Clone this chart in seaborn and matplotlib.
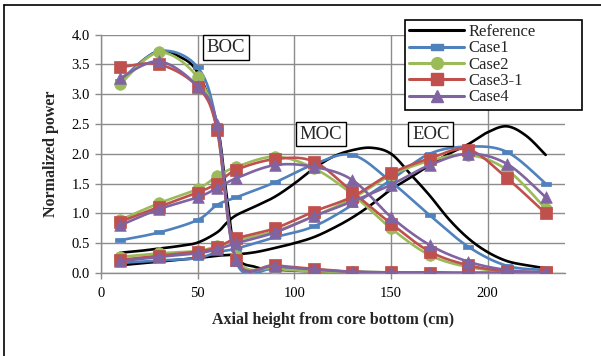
import numpy as np
import pandas as pd
import matplotlib
matplotlib.use("Agg")
import matplotlib.pyplot as plt
from matplotlib.lines import Line2D
import seaborn as sns

# Axial node heights (cm) for the calculated cases
heights = [10, 30, 50, 60, 70, 90, 110, 130, 150, 170, 190, 210, 230]

# Case1
case1_boc = [3.22, 3.72, 3.45, 2.48, 0.18, 0.08, 0.05, 0.02, 0.01, 0.00, 0.00, 0.00, 0.00]
case1_moc = [0.55, 0.68, 0.89, 1.14, 1.27, 1.52, 1.82, 1.98, 1.53, 0.97, 0.44, 0.12, 0.05]
case1_eoc = [0.17, 0.21, 0.25, 0.35, 0.41, 0.60, 0.78, 1.14, 1.56, 2.00, 2.12, 2.03, 1.50]
# Case2
case2_boc = [3.17, 3.70, 3.28, 2.42, 0.28, 0.08, 0.03, 0.02, 0.01, 0.00, 0.00, 0.00, 0.00]
case2_moc = [0.89, 1.17, 1.41, 1.62, 1.78, 1.95, 1.76, 1.32, 0.75, 0.30, 0.10, 0.03, 0.01]
case2_eoc = [0.27, 0.33, 0.37, 0.45, 0.55, 0.70, 0.95, 1.25, 1.64, 1.88, 1.98, 1.73, 1.08]
# Case3-1
case3_boc = [3.45, 3.50, 3.12, 2.40, 0.22, 0.13, 0.07, 0.02, 0.01, 0.00, 0.00, 0.00, 0.00]
case3_moc = [0.86, 1.11, 1.35, 1.50, 1.73, 1.91, 1.87, 1.36, 0.83, 0.36, 0.13, 0.03, 0.01]
case3_eoc = [0.22, 0.29, 0.36, 0.43, 0.58, 0.75, 1.03, 1.28, 1.67, 1.92, 2.07, 1.59, 1.00]
# Case4
case4_boc = [3.27, 3.55, 3.13, 2.50, 0.22, 0.12, 0.06, 0.02, 0.01, 0.00, 0.00, 0.00, 0.00]
case4_moc = [0.80, 1.07, 1.27, 1.42, 1.59, 1.81, 1.78, 1.56, 0.94, 0.47, 0.19, 0.05, 0.01]
case4_eoc = [0.20, 0.27, 0.33, 0.40, 0.50, 0.68, 0.95, 1.20, 1.48, 1.81, 2.00, 1.83, 1.27]

# Reference solution on a finer axial mesh
ref_heights = [10, 20, 30, 40, 50, 60, 65, 70, 80, 90, 100, 110, 120, 130, 140,
               150, 160, 170, 180, 190, 200, 210, 220, 230]
ref_boc = [3.20, 3.52, 3.72, 3.64, 3.36, 2.50, 1.30, 0.30, 0.10, 0.06, 0.04, 0.03,
           0.02, 0.02, 0.01, 0.01, 0.01, 0.01, 0.00, 0.00, 0.00, 0.00, 0.00, 0.00]
ref_moc = [0.34, 0.37, 0.41, 0.45, 0.51, 0.68, 0.84, 0.97, 1.12, 1.28, 1.50, 1.75,
           1.95, 2.06, 2.10, 2.00, 1.66, 1.30, 0.90, 0.58, 0.35, 0.20, 0.13, 0.08]
ref_eoc = [0.13, 0.16, 0.19, 0.22, 0.25, 0.29, 0.30, 0.31, 0.35, 0.42, 0.50, 0.60,
           0.75, 0.93, 1.15, 1.40, 1.60, 1.81, 2.00, 2.16, 2.36, 2.46, 2.30, 1.98]

series_names = ["Reference", "Case1", "Case2", "Case3-1", "Case4"]
colors = {"Reference": "#000000", "Case1": "#4F81BD", "Case2": "#9BBB59",
          "Case3-1": "#C0504D", "Case4": "#8064A2"}
dash_marker = [(-1.0, -0.45), (1.0, -0.45), (1.0, 0.45), (-1.0, 0.45), (-1.0, -0.45)]
markers = {"Case1": dash_marker, "Case2": "o", "Case3-1": "s", "Case4": "^"}
msizes = {"Case1": 50, "Case2": 70, "Case3-1": 65, "Case4": 70}
state_labels = ["BOC", "MOC", "EOC"]
state_pos = [(64.6, 3.78), (113.8, 2.33), (170.6, 2.33)]

case_data = {
    "Case1": [case1_boc, case1_moc, case1_eoc],
    "Case2": [case2_boc, case2_moc, case2_eoc],
    "Case3-1": [case3_boc, case3_moc, case3_eoc],
    "Case4": [case4_boc, case4_moc, case4_eoc],
}
ref_data = [ref_boc, ref_moc, ref_eoc]


def smooth_curve(x, y, n=24):
    """Bezier smoothing through every point (spreadsheet-style smoothed line)."""
    pts = np.column_stack([np.asarray(x, float), np.asarray(y, float)])
    padded = np.vstack([pts[0], pts, pts[-1]])
    t = np.linspace(0.0, 1.0, n)[:, None]
    pieces = []
    for i in range(len(pts) - 1):
        p0, p1, p2, p3 = padded[i], padded[i + 1], padded[i + 2], padded[i + 3]
        c1 = p1 + (p2 - p0) / 6.0
        c2 = p2 - (p3 - p1) / 6.0
        seg = ((1 - t) ** 3) * p1 + 3 * ((1 - t) ** 2) * t * c1 \
            + 3 * (1 - t) * t ** 2 * c2 + t ** 3 * p2
        pieces.append(seg if i == 0 else seg[1:])
    out = np.vstack(pieces)
    return out[:, 0], out[:, 1]


serif = ["Liberation Serif", "DejaVu Serif"]
sns.set_theme(style="white")
plt.rcParams["font.family"] = serif

fig = plt.figure(figsize=(6.01, 3.56), dpi=100)
W, H = 601, 356
ax = fig.add_axes([101 / W, 1 - 273 / H, (565 - 101) / W, (273 - 34.5) / H])

# Reference curves (no markers)
for vals in ref_data:
    sx, sy = smooth_curve(ref_heights, vals)
    sns.lineplot(x=sx, y=sy, sort=False, estimator=None, color=colors["Reference"],
                 linewidth=1.9, ax=ax, zorder=3)

# Calculated cases: smoothed line plus markers at the nodes
for k, name in enumerate(series_names[1:]):
    for vals in case_data[name]:
        sx, sy = smooth_curve(heights, vals)
        sns.lineplot(x=sx, y=sy, sort=False, estimator=None, color=colors[name],
                     linewidth=1.9, ax=ax, zorder=4 + k)
        sns.scatterplot(x=heights, y=vals, marker=markers[name], s=msizes[name],
                        color=colors[name], edgecolor=colors[name], linewidth=0.5,
                        ax=ax, zorder=4 + k, legend=False)

ax.set_xlim(0, 240)
ax.set_ylim(0, 4.0)
ax.set_xticks([0, 50, 100, 150, 200])
ax.set_yticks(np.arange(0, 4.01, 0.5))
ax.set_yticklabels([f"{v:.1f}" for v in np.arange(0, 4.01, 0.5)])
ax.grid(True, color="#8c8c8c", linewidth=1.0)
ax.set_axisbelow(True)
for side in ["top", "right"]:
    ax.spines[side].set_visible(False)
for side in ["left", "bottom"]:
    ax.spines[side].set_color("#8c8c8c")
    ax.spines[side].set_linewidth(1.0)
ax.tick_params(axis="both", which="major", direction="out", length=4, width=1,
               color="#8c8c8c", labelsize=10.5, labelcolor="black", pad=4,
               bottom=True, left=True)
ax.tick_params(axis="x", pad=6)
for lab in ax.get_xticklabels() + ax.get_yticklabels():
    lab.set_family(serif)

ax.set_xlabel("Axial height from core bottom (cm)", fontsize=11.5,
              fontweight="bold", family=serif, labelpad=9)
ax.set_ylabel("Normalized power", fontsize=11.5, fontweight="bold",
              family=serif, labelpad=9)

# Burnup state labels
for lab, (px, py) in zip(state_labels, state_pos):
    ax.text(px, py, lab, ha="center", va="center", fontsize=13.5, family=serif,
            zorder=10,
            bbox=dict(boxstyle="square,pad=0.2", facecolor="white",
                      edgecolor="black", linewidth=1.0))

# Legend
handles = [Line2D([], [], color=colors["Reference"], linewidth=2.2)]
for name in series_names[1:]:
    handles.append(Line2D([], [], color=colors[name], linewidth=2.2,
                          marker=markers[name], markersize=8.5,
                          markeredgecolor=colors[name]))
leg = fig.legend(handles, series_names, loc="upper left", mode="expand",
                 bbox_to_anchor=(405 / W, 1 - 106 / H, 177 / W, 86 / H),
                 frameon=True, fancybox=False, framealpha=1, edgecolor="black",
                 prop={"family": serif, "size": 12}, handlelength=3.3,
                 handletextpad=0.25, labelspacing=0.02, borderpad=0.25,
                 borderaxespad=0.0)
leg.get_frame().set_linewidth(1.2)
leg.set_zorder(20)

# Chart-area border (left and top edges)
fig.add_artist(Line2D([3.5 / W, 3.5 / W], [0, 1 - 5 / H], color="black",
                      linewidth=1.2, transform=fig.transFigure))
fig.add_artist(Line2D([3.5 / W, 1], [1 - 5 / H, 1 - 5 / H], color="black",
                      linewidth=1.2, transform=fig.transFigure))

fig.savefig("out.png", dpi=100, facecolor="white")
